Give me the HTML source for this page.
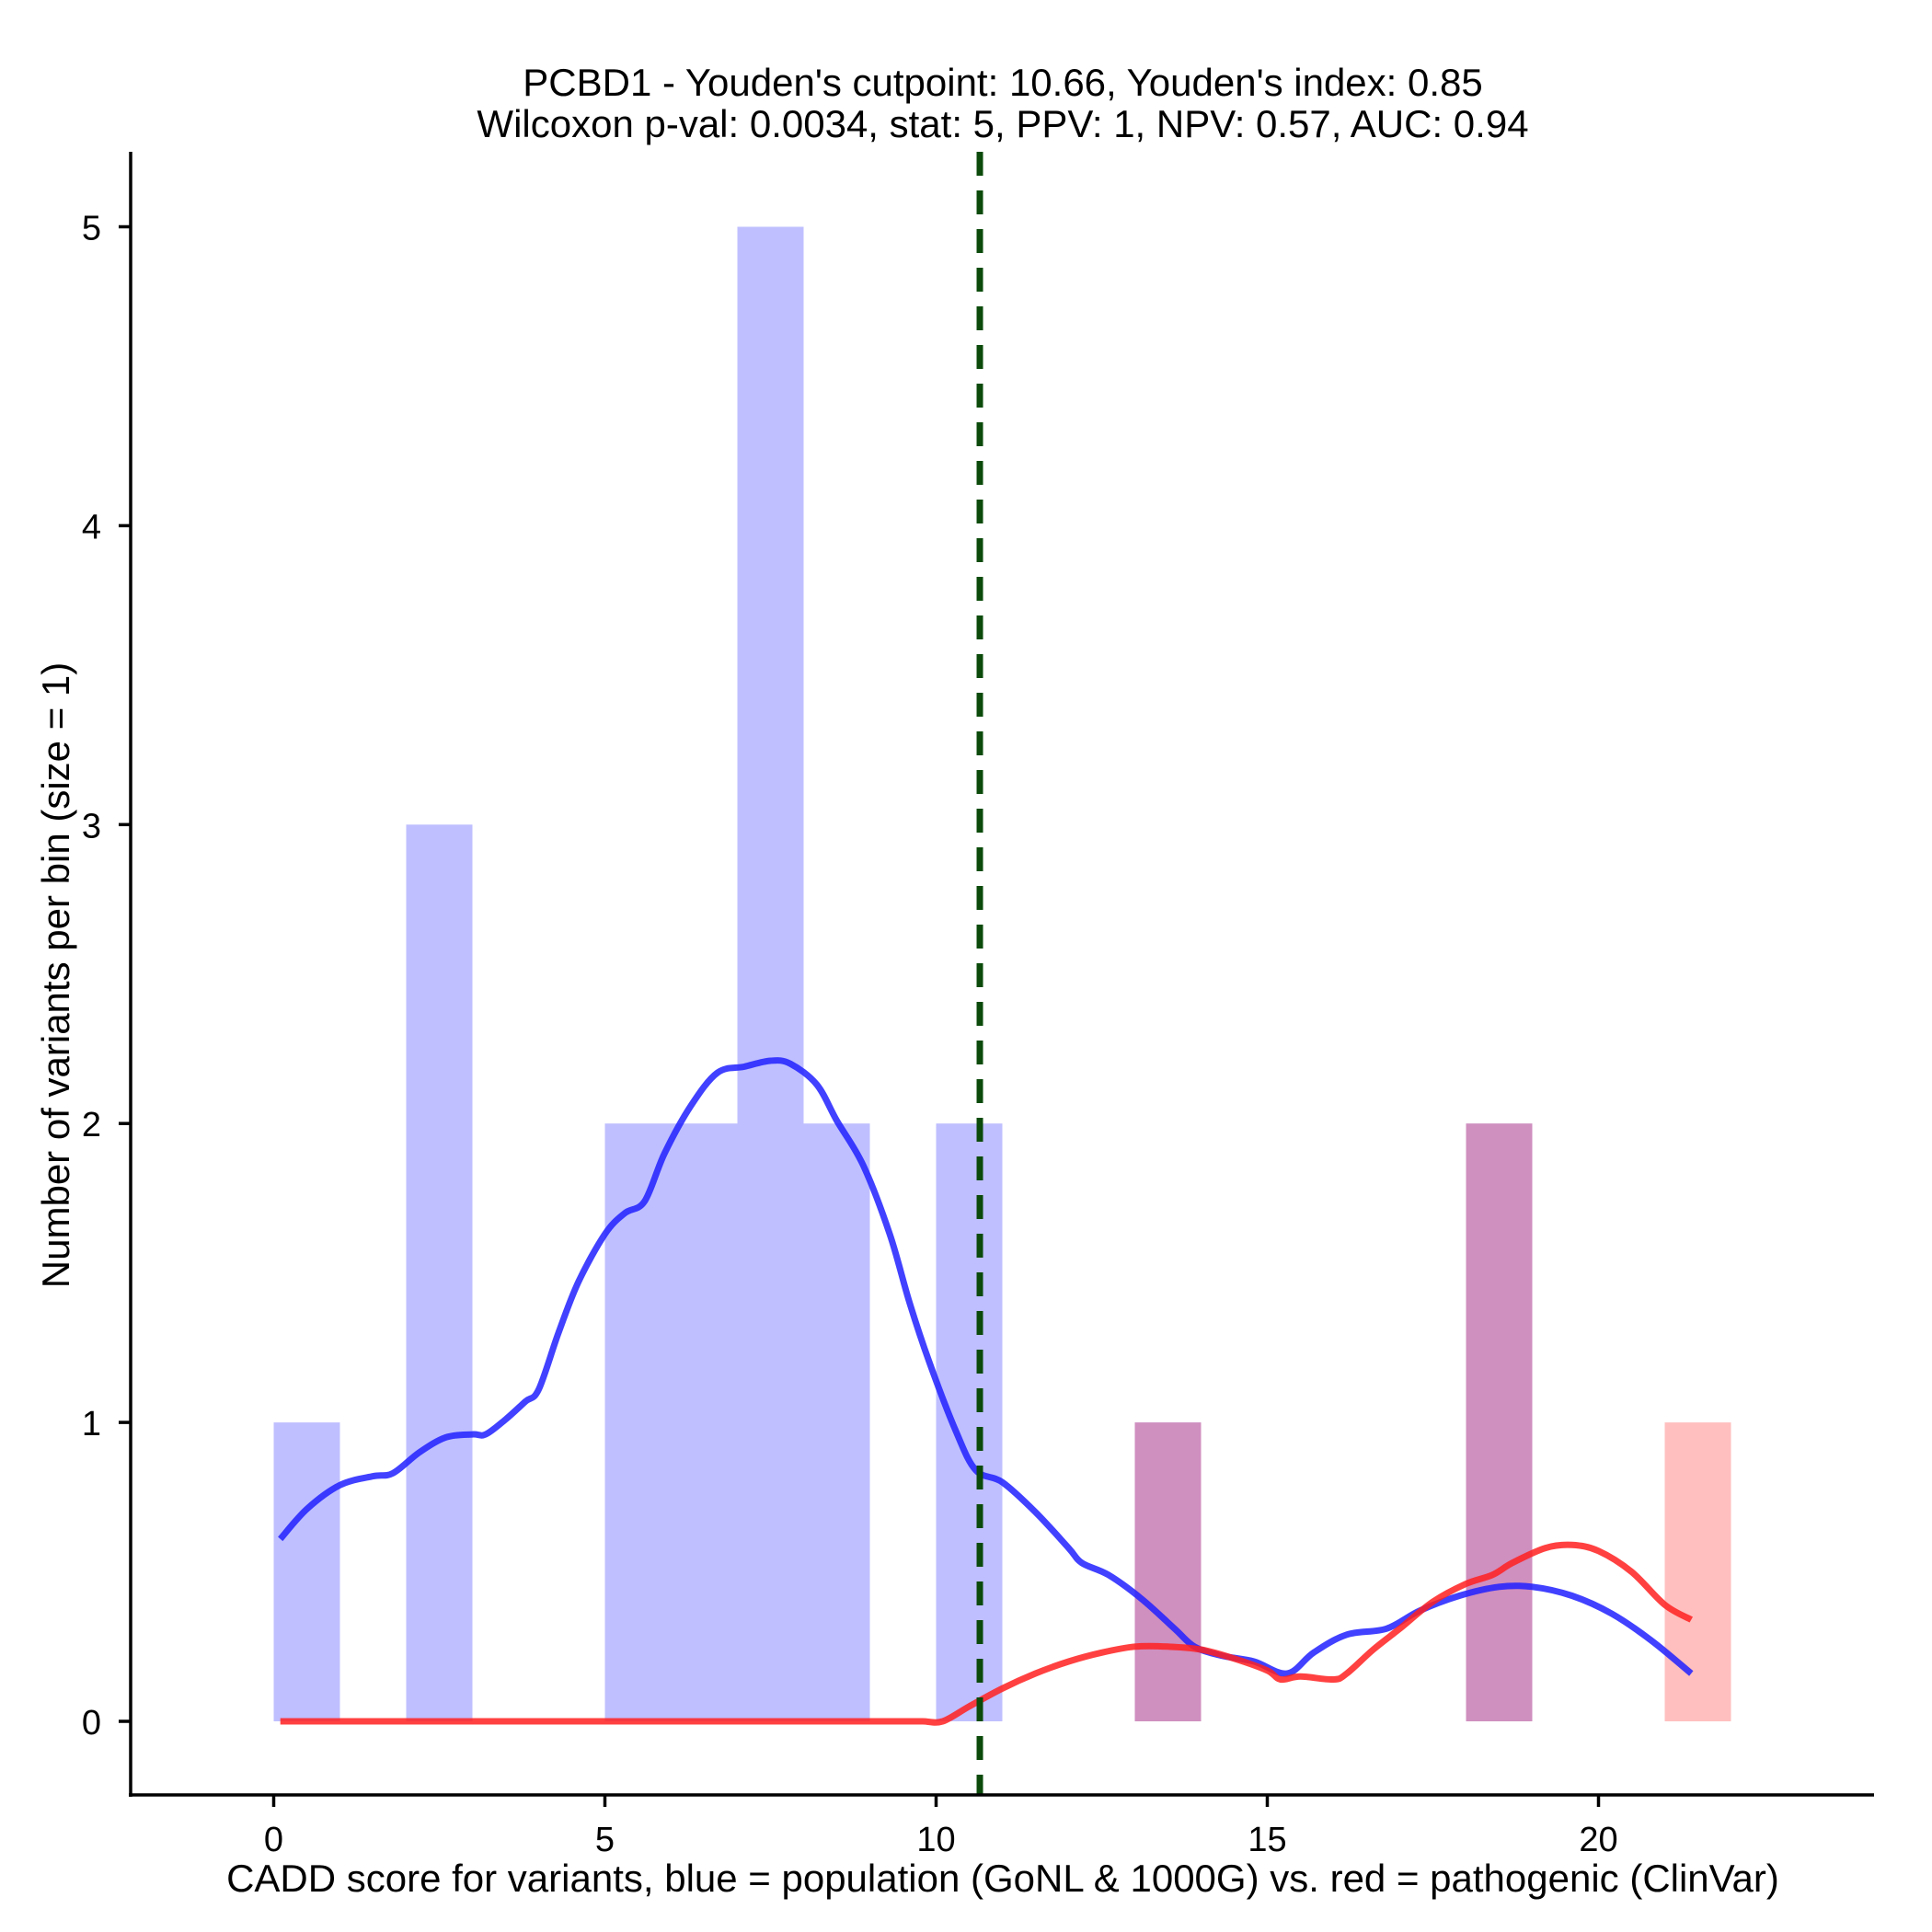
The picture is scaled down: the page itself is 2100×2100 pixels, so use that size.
<!DOCTYPE html>
<html><head><meta charset="utf-8"><style>body{margin:0;background:#fff}svg{display:block}text{font-family:"Liberation Sans",sans-serif;fill:#000}</style></head>
<body>
<svg id="chart" width="2100" height="2100" viewBox="0 0 2100 2100" xmlns="http://www.w3.org/2000/svg">
<rect width="2100" height="2100" fill="#fff"/>
<g id="bars"></g>
<g id="curves"></g>
<g id="axes"></g>
<text x="1090" y="104" font-size="42" text-anchor="middle">PCBD1 - Youden's cutpoint: 10.66, Youden's index: 0.85</text>
<text x="1090" y="149" font-size="42" text-anchor="middle">Wilcoxon p-val: 0.0034, stat: 5, PPV: 1, NPV: 0.57, AUC: 0.94</text>
<text x="1090" y="2056" font-size="42" text-anchor="middle">CADD score for variants, blue = population (GoNL &amp; 1000G) vs. red = pathogenic (ClinVar)</text>
<text x="0" y="0" font-size="42" text-anchor="middle" transform="translate(75,1060) rotate(-90)">Number of variants per bin (size = 1)</text>
</svg>
<script>
const blueBinStarts=[0,2,5,6,7,8,10,13,18];
const blueCounts=[1,3,2,2,5,2,2,1,2];
const redBinStarts=[13,18,21];
const redCounts=[1,2,1];
const blueX=[0.1,0.5,1,1.5,1.8,2.2,2.6,3.0,3.2,3.5,3.8,4.0,4.3,4.6,5.0,5.3,5.6,5.9,6.3,6.7,7.1,7.5,7.8,8.2,8.5,8.9,9.3,9.6,9.9,10.3,10.6,11.0,11.5,12.0,12.2,12.6,13.1,13.6,13.9,14.3,14.8,15.3,15.7,16.2,16.8,17.3,17.9,18.5,19.0,19.6,20.2,20.8,21.4];
const blueY=[0.61,0.71,0.79,0.82,0.83,0.90,0.95,0.96,0.96,1.01,1.07,1.11,1.30,1.47,1.63,1.70,1.74,1.90,2.06,2.17,2.19,2.21,2.20,2.13,2.01,1.86,1.63,1.40,1.20,0.97,0.84,0.80,0.70,0.58,0.53,0.49,0.41,0.31,0.25,0.22,0.20,0.16,0.23,0.29,0.31,0.37,0.42,0.45,0.45,0.42,0.36,0.27,0.16];
const redX=[0.1,1,2,3,4,5,6,7,8,9,9.5,9.8,10.1,10.5,11,11.5,12,12.5,13,13.5,14,14.5,15.0,15.2,15.5,16.0,16.2,16.6,17,17.5,18.0,18.4,18.7,19.2,19.6,20.0,20.5,21.0,21.4];
const redY=[0,0,0,0,0,0,0,0,0,0,0,0,0,0.05,0.11,0.16,0.20,0.23,0.25,0.25,0.24,0.21,0.17,0.14,0.15,0.14,0.16,0.24,0.31,0.40,0.46,0.49,0.53,0.58,0.59,0.57,0.50,0.39,0.34];
const xTicks=[0,5,10,15,20];
const yTicks=[0,1,2,3,4,5];
const cutpoint=10.66;

const NS='http://www.w3.org/2000/svg';
const sx=v=>297.5+v*72;
const sy=v=>1871-v*324.9;
function mk(tag,attrs,parent){const e=document.createElementNS(NS,tag);for(const k in attrs)e.setAttribute(k,attrs[k]);parent.appendChild(e);return e;}
const bars=document.getElementById('bars'),curves=document.getElementById('curves'),axes=document.getElementById('axes');
blueBinStarts.forEach((s,i)=>{const r=mk('rect',{x:sx(s),y:sy(blueCounts[i]),width:sx(s+1)-sx(s),height:sy(0)-sy(blueCounts[i]),fill:'#0000ff','fill-opacity':0.25},bars);

});
redBinStarts.forEach((s,i)=>{const r=mk('rect',{x:sx(s),y:sy(redCounts[i]),width:sx(s+1)-sx(s),height:sy(0)-sy(redCounts[i]),fill:'#ff0000','fill-opacity':0.25},bars);

});
function path(xs,ys){
  const P=xs.map((x,i)=>[sx(x),sy(ys[i])]);
  let d='M'+P[0][0].toFixed(1)+','+P[0][1].toFixed(1);
  for(let i=0;i<P.length-1;i++){
    const p0=P[Math.max(0,i-1)],p1=P[i],p2=P[i+1],p3=P[Math.min(P.length-1,i+2)];
    const c1=[p1[0]+(p2[0]-p0[0])/6,p1[1]+(p2[1]-p0[1])/6];
    const c2=[p2[0]-(p3[0]-p1[0])/6,p2[1]-(p3[1]-p1[1])/6];
    d+='C'+c1[0].toFixed(1)+','+c1[1].toFixed(1)+' '+c2[0].toFixed(1)+','+c2[1].toFixed(1)+' '+p2[0].toFixed(1)+','+p2[1].toFixed(1);
  }
  return d;}
const bl=mk('path',{d:path(blueX,blueY),fill:'none',stroke:'#2020ff','stroke-opacity':0.85,'stroke-width':7,'stroke-linejoin':'round'},curves);


const rl=mk('path',{d:path(redX,redY),fill:'none',stroke:'#ff2020','stroke-opacity':0.85,'stroke-width':7,'stroke-linejoin':'round'},curves);


const cl=mk('line',{x1:sx(cutpoint),x2:sx(cutpoint),y1:165,y2:1951,stroke:'#0b4a0b','stroke-width':7,'stroke-dasharray':'26 16'},curves);


const ya=mk('line',{x1:142,x2:142,y1:165,y2:1953,stroke:'#000','stroke-width':3.5},axes);


const xa=mk('line',{x1:140,x2:2037,y1:1951,y2:1951,stroke:'#000','stroke-width':3.5},axes);


xTicks.forEach(t=>{const l=mk('line',{x1:sx(t),x2:sx(t),y1:1951,y2:1964,stroke:'#000','stroke-width':3.5},axes);


const tx=mk('text',{x:sx(t),y:2012,'font-size':38,'text-anchor':'middle'},axes);tx.textContent=t;

});
yTicks.forEach(t=>{const l=mk('line',{x1:129,x2:142,y1:sy(t),y2:sy(t),stroke:'#000','stroke-width':3.5},axes);


const tx=mk('text',{x:110,y:sy(t)+14,'font-size':38,'text-anchor':'end'},axes);tx.textContent=t;

});
</script>
</body></html>
